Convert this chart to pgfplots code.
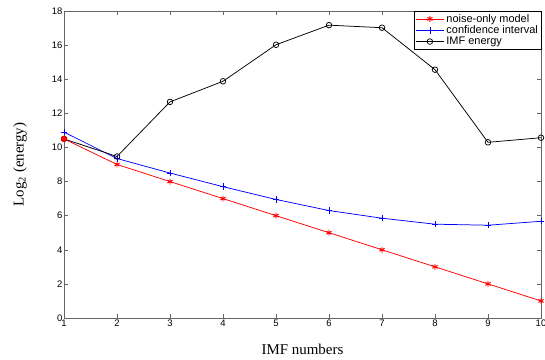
\documentclass[border=0pt]{standalone}
\usepackage{fontspec}
\setmainfont{Liberation Serif}
\newfontfamily\arialfont{Liberation Sans}
\usepackage{pgfplots}
\pgfplotsset{compat=1.18}
\begin{document}
\begin{tikzpicture}
\begin{axis}[
  scale only axis,
  width=477bp, height=307bp,
  xmin=1, xmax=10, ymin=0, ymax=18,
  xtick={1,...,10}, ytick={0,2,...,18},
  tick align=inside,
  major tick length=4bp,
  axis line style={gray!80!black},
  every tick/.style={gray!80!black},
  /pgf/number format/assume math mode=true,
  ticklabel style={font=\arialfont\fontsize{9.5}{10}\selectfont},
  yticklabel style={inner sep=1.5bp},
  xticklabel style={inner sep=1.5bp},
  xlabel={IMF numbers},
  ylabel={Log\textsubscript{2} (energy)},
  label style={font=\fontsize{15}{17}\selectfont},
  xlabel style={at={(axis description cs:0.5,0)}, anchor=center, yshift=-31bp},
  ylabel style={at={(axis description cs:0,0.5)}, anchor=center, yshift=44bp},
  legend style={at={(1,1)}, anchor=north east, draw=black, font=\arialfont\fontsize{11}{11.5}\selectfont, inner sep=1pt, row sep=-2pt},
  legend cell align=left,
  legend image code/.code={\draw[mark repeat=2,mark phase=2] plot coordinates {(0cm,0cm)(0.5cm,0cm)(1cm,0cm)};},
  every axis plot/.append style={line width=0.75pt},
]
\addplot[red, mark=asterisk, mark size=3pt, mark options={line width=1pt}] coordinates {
(1,10.5)(2,9)(3,8)(4,7)(5,6)(6,5)(7,4)(8,3)(9,2)(10,1)};
\addlegendentry{noise-only model}
\addplot[blue, mark=+, mark size=3.2pt] coordinates {
(1,10.9)(2,9.35)(3,8.5)(4,7.7)(5,6.95)(6,6.3)(7,5.85)(8,5.5)(9,5.44)(10,5.67)};
\addlegendentry{confidence interval}
\addplot[black, mark=o, mark size=2.8pt] coordinates {
(1,10.5)(2,9.47)(3,12.67)(4,13.88)(5,16.02)(6,17.17)(7,17.02)(8,14.56)(9,10.3)(10,10.57)};
\addlegendentry{IMF energy}
\addplot[red, only marks, mark=*, mark size=2.6pt, forget plot] coordinates {(1,10.5)};
\end{axis}
\pgfresetboundingbox
\path (-64bp,-42bp) rectangle (481bp,318bp);
\end{tikzpicture}
\end{document}
